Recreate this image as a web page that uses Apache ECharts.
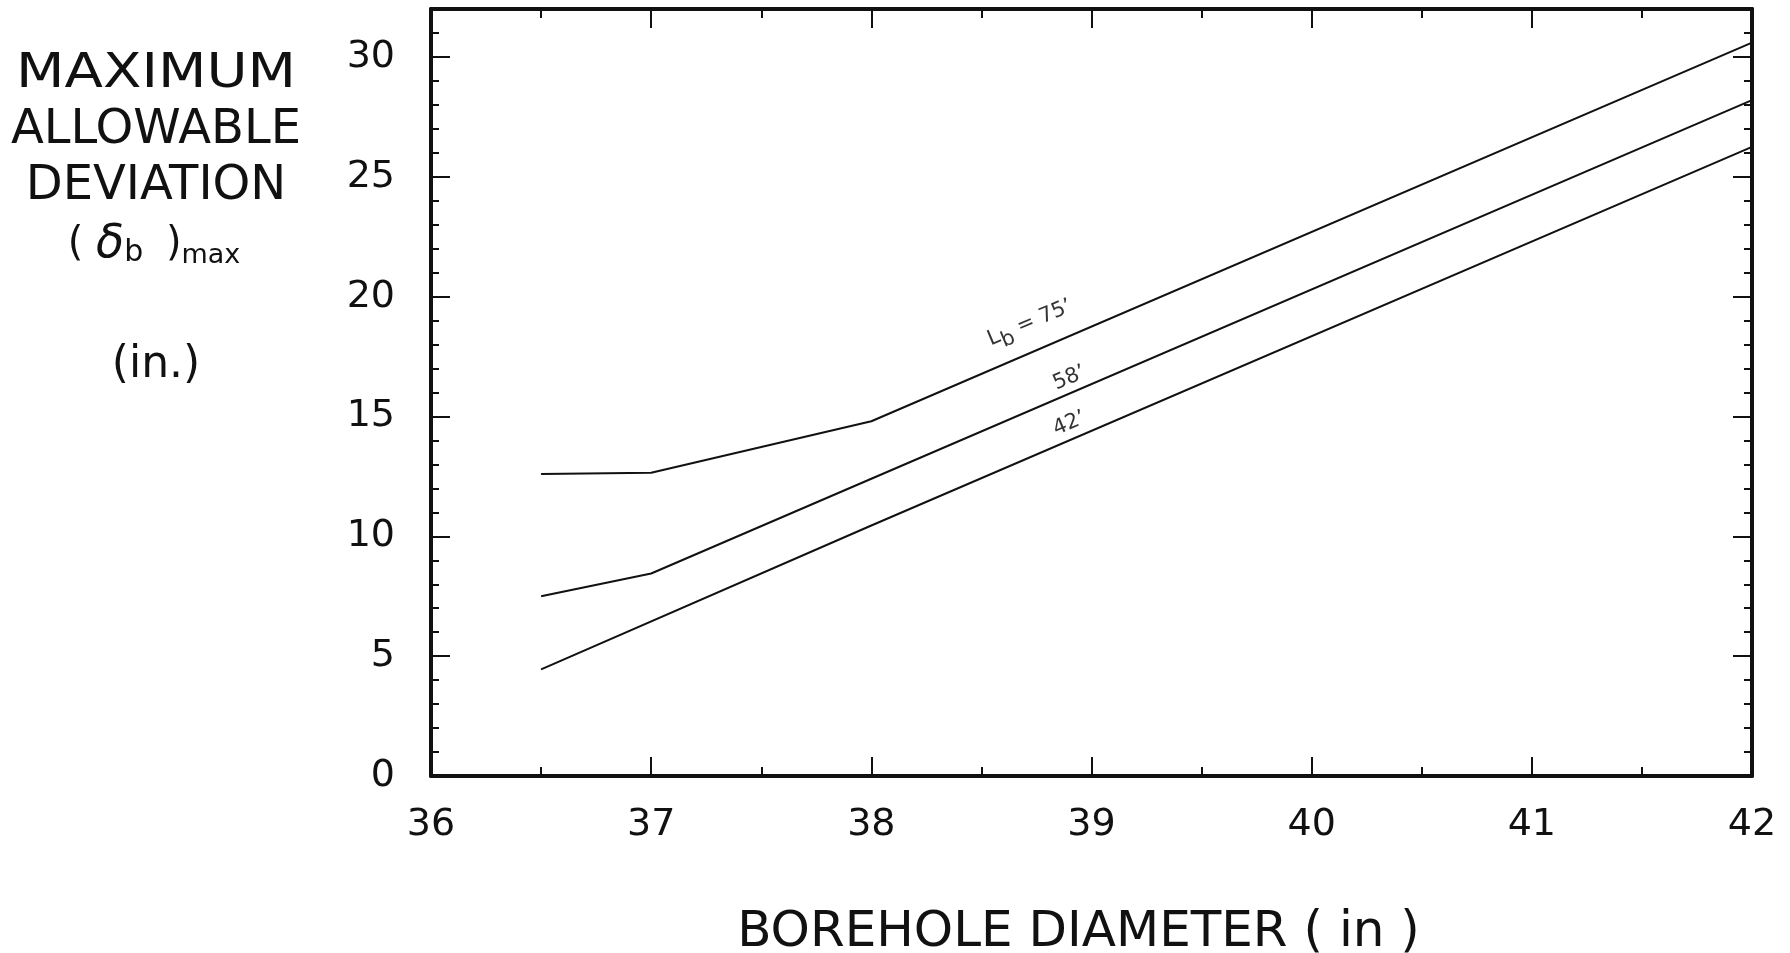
<!DOCTYPE html>
<html>
<head>
<meta charset="utf-8">
<title>Maximum allowable deviation vs borehole diameter</title>
<script src="https://cdn.jsdelivr.net/npm/echarts@6/dist/echarts.min.js"></script>
<style>
  html, body { margin: 0; padding: 0; background: #fff; }
  #chart { width: 1790px; height: 953px; }
</style>
</head>
<body>
<div id="chart"></div>
<script>
// curves: borehole diameter (in) -> max deviation (in)
var diam75 = [36.5, 37, 38, 42];
var dev75 = [12.6, 12.65, 14.8, 30.6];
var diam58 = [36.5, 37, 38, 42];
var dev58 = [7.5, 8.45, 12.4, 28.2];
var diam42 = [36.5, 38, 42];
var dev42 = [4.45, 10.45, 26.25];

// curve labels
var labelNames = ['{l|L}{s|b}{l| = 75\u2019}', '{l|58\u2019}', '{l|42\u2019}'];
var labelX = [38.72, 38.9, 38.9];
var labelY = [18.9, 16.6, 14.7];

var font = 'DejaVu Sans';
var ink = '#111';

function pairs(xs, ys) {
  return xs.map(function (x, i) {
    return [x, ys[i]];
  });
}

function lineSeries(xs, ys) {
  return {
    type: 'line',
    xAxisIndex: 0,
    yAxisIndex: 0,
    data: pairs(xs, ys),
    symbol: 'none',
    silent: true,
    lineStyle: { color: ink, width: 2 }
  };
}

function xAxisDef(pos, major) {
  return {
    type: 'value',
    position: pos,
    min: 36,
    max: 42,
    interval: 1,
    axisLine: { show: true, onZero: false, lineStyle: { color: ink, width: 4 } },
    axisTick: { show: true, inside: true, length: 19, lineStyle: { color: ink, width: 2 } },
    minorTick: { show: true, splitNumber: 2, length: 9, lineStyle: { color: ink, width: 2 } },
    splitLine: { show: false },
    axisLabel: major ? {
      show: true,
      margin: 30,
      fontFamily: font,
      fontSize: 38,
      color: ink
    } : { show: false }
  };
}

function yAxisDef(pos, step, showLine, showLabel) {
  return {
    type: 'value',
    position: pos,
    min: 0,
    max: 32,
    interval: step,
    axisLine: { show: showLine, onZero: false, lineStyle: { color: ink, width: 4 } },
    axisTick: { show: true, inside: true, length: step === 5 ? 19 : 8, lineStyle: { color: ink, width: 2 } },
    splitLine: { show: false },
    axisLabel: showLabel ? {
      show: true,
      margin: 36,
      showMaxLabel: false,
      fontFamily: font,
      fontSize: 38,
      color: ink
    } : { show: false }
  };
}

function titleLine(text, y, size, sx) {
  return {
    type: 'text',
    x: 156,
    y: y,
    scaleX: sx || 1,
    style: {
      text: text,
      font: size + 'px "DejaVu Sans"',
      fill: ink,
      textAlign: 'center',
      textVerticalAlign: 'middle'
    }
  };
}

var chart = echarts.init(document.getElementById('chart'), null, { renderer: 'canvas' });

var xBottom = xAxisDef('bottom', true);
xBottom.name = 'BOREHOLE DIAMETER ( in )';
xBottom.nameLocation = 'middle';
xBottom.nameGap = 132;
xBottom.nameTextStyle = { fontFamily: font, fontSize: 50, color: ink, padding: [0, 26, 0, 0] };

chart.setOption({
  backgroundColor: '#fff',
  animation: false,
  grid: { left: 431, right: 38, top: 9, bottom: 177, containLabel: false, outerBoundsMode: 'none' },
  xAxis: [xBottom, xAxisDef('top', false)],
  yAxis: [
    yAxisDef('left', 5, true, true),
    yAxisDef('left', 1, false, false),
    yAxisDef('right', 5, true, false),
    yAxisDef('right', 1, false, false)
  ],
  series: [
    lineSeries(diam75, dev75),
    lineSeries(diam58, dev58),
    lineSeries(diam42, dev42),
    {
      type: 'scatter',
      xAxisIndex: 0,
      yAxisIndex: 0,
      symbolSize: 0,
      silent: true,
      data: labelX.map(function (x, i) {
        return { value: [x, labelY[i]], name: labelNames[i] };
      }),
      label: {
        show: true,
        position: 'inside',
        rotate: 23,
        formatter: function (p) {
          return p.name;
        },
        rich: {
          l: { fontFamily: font, fontSize: 21, color: '#000' },
          s: { fontFamily: font, fontSize: 21, color: '#000', padding: [14, 0, 0, 0] }
        }
      }
    }
  ],
  graphic: [
    titleLine('MAXIMUM', 75, 48, 1.17),
    titleLine('ALLOWABLE', 131, 48),
    titleLine('DEVIATION', 187, 48),
    {
      type: 'text',
      x: 154,
      y: 245,
      style: {
        text: '{p|( }{d|\u03b4}{b|b}{p| )}{m|max}',
        textAlign: 'center',
        textVerticalAlign: 'middle',
        rich: {
          p: { fontFamily: font, fontSize: 40, fill: ink },
          d: { fontFamily: font, fontSize: 46, fontStyle: 'italic', fill: ink },
          b: { fontFamily: font, fontSize: 30, fill: ink, padding: [16, 10, 0, 0] },
          m: { fontFamily: font, fontSize: 27, fill: ink, padding: [22, 0, 0, 0] }
        }
      }
    },
    titleLine('(in.)', 366, 44)
  ]
});
</script>
</body>
</html>
